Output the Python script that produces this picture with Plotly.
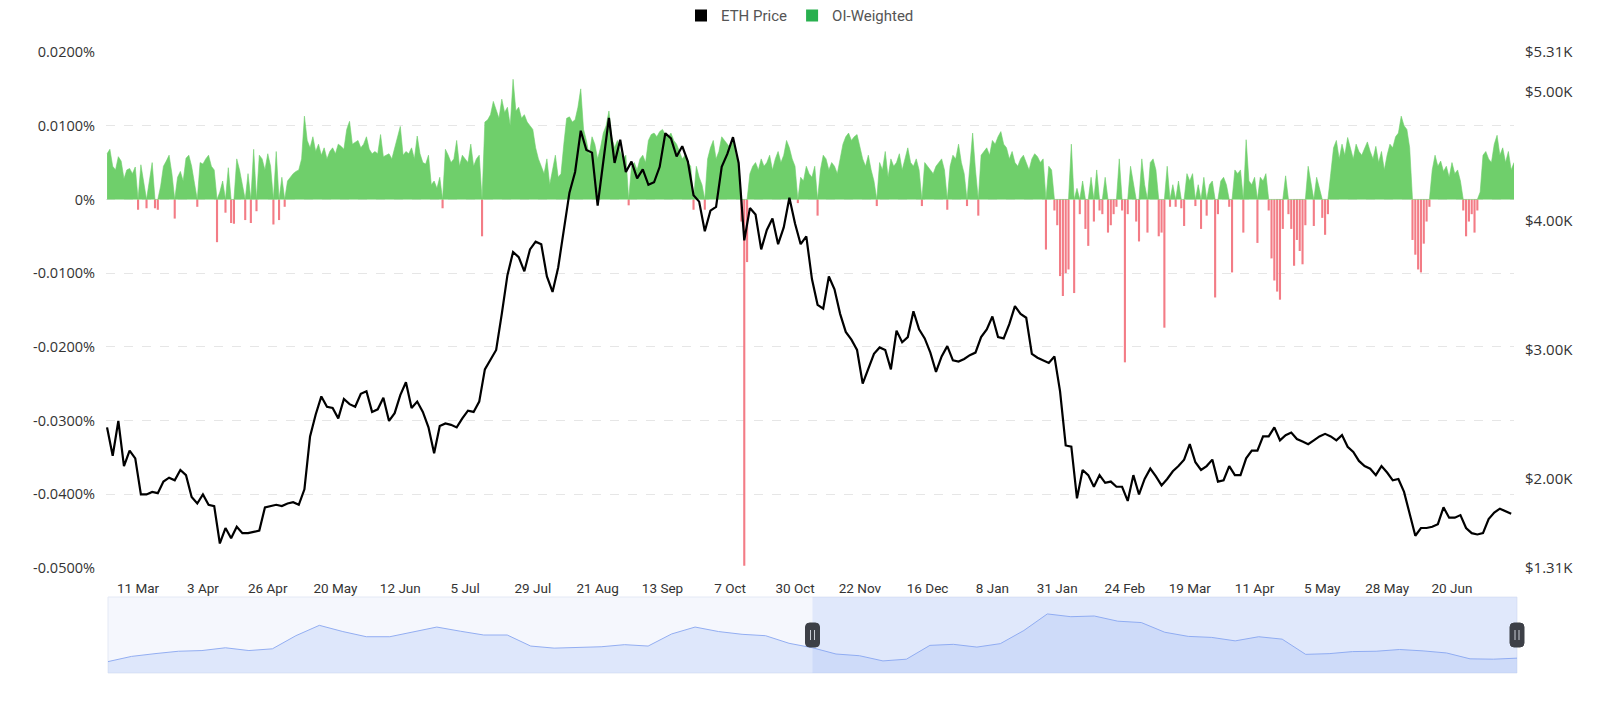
import pandas as pd
import plotly.graph_objects as go

# ---------------- data ----------------
START = "2025-02-28"

# ETH price (thousands of USD), one reading every 2 days
eth_price_k = [
    2.40, 2.18, 2.45, 2.10, 2.22, 2.16, 1.88, 1.88, 1.90, 1.89,
    1.98, 2.01, 1.99, 2.07, 2.03, 1.86, 1.81, 1.88, 1.80, 1.79,
    1.50, 1.62, 1.54, 1.63, 1.58, 1.58, 1.59, 1.60, 1.78, 1.79,
    1.80, 1.79, 1.81, 1.82, 1.80, 1.92, 2.33, 2.50, 2.64, 2.56,
    2.55, 2.47, 2.62, 2.58, 2.56, 2.66, 2.68, 2.52, 2.54, 2.63,
    2.45, 2.51, 2.65, 2.75, 2.55, 2.60, 2.52, 2.40, 2.20, 2.41,
    2.43, 2.42, 2.40, 2.47, 2.53, 2.52, 2.60, 2.85, 2.92, 3.00,
    3.28, 3.58, 3.76, 3.72, 3.61, 3.78, 3.84, 3.82, 3.57, 3.45,
    3.64, 3.92, 4.22, 4.38, 4.70, 4.55, 4.53, 4.12, 4.45, 4.80,
    4.45, 4.63, 4.38, 4.46, 4.33, 4.40, 4.28, 4.30, 4.42, 4.68,
    4.64, 4.50, 4.58, 4.46, 4.20, 4.15, 3.92, 4.08, 4.11, 4.42,
    4.52, 4.65, 4.45, 3.85, 4.10, 4.05, 3.78, 3.93, 4.02, 3.82,
    3.95, 4.18, 3.98, 3.82, 3.88, 3.55, 3.35, 3.32, 3.57, 3.47,
    3.28, 3.14, 3.08, 3.00, 2.74, 2.85, 2.97, 3.02, 3.00, 2.85,
    3.15, 3.06, 3.10, 3.30, 3.16, 3.09, 2.98, 2.83, 2.95, 3.03,
    2.92, 2.91, 2.93, 2.96, 2.98, 3.10, 3.16, 3.26, 3.10, 3.09,
    3.20, 3.34, 3.28, 3.25, 2.97, 2.94, 2.92, 2.90, 2.95, 2.68,
    2.26, 2.25, 1.85, 2.07, 2.03, 1.94, 2.03, 1.97, 1.98, 1.94,
    1.94, 1.83, 2.03, 1.88, 2.00, 2.08, 2.02, 1.95, 2.00, 2.06,
    2.10, 2.15, 2.27, 2.13, 2.07, 2.10, 2.15, 1.98, 1.99, 2.10,
    2.03, 2.03, 2.16, 2.22, 2.22, 2.33, 2.33, 2.40, 2.30, 2.34,
    2.36, 2.31, 2.29, 2.27, 2.30, 2.33, 2.35, 2.33, 2.30, 2.34,
    2.25, 2.21, 2.14, 2.10, 2.08, 2.03, 2.10, 2.05, 1.99, 2.00,
    1.90, 1.74, 1.56, 1.62, 1.62, 1.63, 1.65, 1.78, 1.70, 1.70,
    1.72, 1.62, 1.58, 1.57, 1.58, 1.69, 1.74, 1.77, 1.75, 1.73,
]

# OI-weighted funding rate (%), one reading per day
oi_weighted_pct = [
    0.0062, 0.0068, 0.0045, 0.0040, 0.0058, 0.0052, 0.0028, 0.0040, 0.0042, 0.0035,
    0.0044, -0.0014, 0.0047, 0.0022, -0.0012, 0.0025, 0.0050, -0.0012, -0.0014, 0.0018,
    0.0045, 0.0052, 0.0060, 0.0035, -0.0026, 0.0030, 0.0038, 0.0025, 0.0056, 0.0060,
    0.0045, 0.0022, -0.0010, 0.0050, 0.0048, 0.0055, 0.0060, 0.0045, 0.0040, -0.0058,
    0.0010, 0.0025, -0.0018, 0.0043, -0.0032, -0.0033, 0.0055, 0.0040, 0.0020, -0.0028,
    0.0035, -0.0032, 0.0068, -0.0016, 0.0060, 0.0055, 0.0040, 0.0062, 0.0045, -0.0034,
    0.0065, -0.0028, 0.0030, -0.0010, 0.0025, 0.0030, 0.0035, 0.0038, 0.0040, 0.0055,
    0.0113, 0.0080, 0.0070, 0.0085, 0.0065, 0.0075, 0.0060, 0.0070, 0.0055, 0.0065,
    0.0070, 0.0062, 0.0075, 0.0072, 0.0068, 0.0095, 0.0106, 0.0075, 0.0078, 0.0080,
    0.0070, 0.0075, 0.0085, 0.0068, 0.0062, 0.0065, 0.0062, 0.0088, 0.0058, 0.0060,
    0.0062, 0.0055, 0.0070, 0.0085, 0.0099, 0.0060, 0.0065, 0.0062, 0.0070, 0.0055,
    0.0086, 0.0062, 0.0050, 0.0048, 0.0060, 0.0020, 0.0025, 0.0015, 0.0030, -0.0012,
    0.0068, 0.0060, 0.0050, 0.0055, 0.0080, 0.0045, 0.0060, 0.0055, 0.0050, 0.0075,
    0.0045, 0.0055, 0.0060, -0.0050, 0.0105, 0.0108, 0.0115, 0.0133, 0.0120, 0.0110,
    0.0136, 0.0118, 0.0125, 0.0100, 0.0163, 0.0120, 0.0125, 0.0110, 0.0115, 0.0105,
    0.0100, 0.0095, 0.0070, 0.0055, 0.0045, 0.0035, 0.0055, 0.0020, 0.0040, 0.0060,
    0.0030, 0.0035, 0.0075, 0.0110, 0.0112, 0.0105, 0.0108, 0.0125, 0.0150, 0.0095,
    0.0080, 0.0060, 0.0085, 0.0075, 0.0055, 0.0070, 0.0090, 0.0100, 0.0120, 0.0085,
    0.0070, 0.0080, 0.0065, 0.0055, 0.0060, -0.0008, 0.0045, 0.0050, 0.0040, 0.0055,
    0.0060, 0.0050, 0.0080, 0.0088, 0.0090, 0.0085, 0.0092, 0.0095, 0.0088, 0.0085,
    0.0090, 0.0080, 0.0075, 0.0065, 0.0055, 0.0060, 0.0050, 0.0045, -0.0014, 0.0045,
    0.0030, 0.0020, -0.0014, 0.0055, 0.0070, 0.0080, 0.0055, 0.0065, 0.0085, 0.0080,
    0.0075, 0.0070, 0.0080, 0.0060, 0.0050, -0.0030, -0.0497, -0.0085, 0.0035, 0.0045,
    0.0050, 0.0040, 0.0055, 0.0045, 0.0050, 0.0060, 0.0040, 0.0055, 0.0065, 0.0050,
    0.0060, 0.0080, 0.0070, 0.0055, 0.0045, -0.0005, 0.0030, 0.0025, 0.0045, 0.0035,
    0.0030, 0.0045, -0.0022, 0.0040, 0.0060, 0.0055, 0.0040, 0.0050, 0.0045, 0.0035,
    0.0055, 0.0075, 0.0085, 0.0090, 0.0080, 0.0085, 0.0088, 0.0070, 0.0055, 0.0045,
    0.0060, 0.0040, 0.0025, -0.0009, 0.0050, 0.0040, 0.0065, 0.0030, 0.0055, 0.0045,
    0.0050, 0.0062, 0.0040, 0.0055, 0.0070, 0.0050, 0.0045, 0.0055, 0.0040, -0.0009,
    0.0050, 0.0045, 0.0040, 0.0035, 0.0045, 0.0050, 0.0055, 0.0040, -0.0014, 0.0045,
    0.0060, 0.0055, 0.0075, 0.0050, 0.0035, -0.0009, 0.0045, 0.0090, 0.0040, -0.0022,
    0.0060, 0.0065, 0.0070, 0.0060, 0.0080, 0.0075, 0.0085, 0.0092, 0.0075, 0.0070,
    0.0055, 0.0065, 0.0050, 0.0045, 0.0055, 0.0060, 0.0050, 0.0040, 0.0055, 0.0062,
    0.0058, 0.0050, 0.0055, -0.0068, 0.0045, 0.0040, -0.0015, -0.0035, -0.0104, -0.0131,
    -0.0100, -0.0095, 0.0075, -0.0127, 0.0015, -0.0020, 0.0025, -0.0040, -0.0063, 0.0030,
    -0.0030, 0.0040, -0.0015, -0.0020, 0.0030, -0.0045, -0.0035, -0.0020, -0.0010, 0.0055,
    -0.0015, -0.0221, -0.0020, 0.0045, 0.0025, -0.0030, -0.0057, 0.0055, 0.0020, -0.0045,
    0.0050, 0.0055, 0.0040, -0.0050, -0.0045, -0.0174, 0.0045, -0.0010, 0.0020, -0.0010,
    0.0025, -0.0012, -0.0036, 0.0035, 0.0025, 0.0035, -0.0009, 0.0020, -0.0040, 0.0030,
    -0.0022, 0.0020, 0.0025, -0.0133, -0.0020, 0.0025, 0.0030, 0.0020, -0.0010, -0.0099,
    0.0040, 0.0035, 0.0040, -0.0045, 0.0081, 0.0025, 0.0020, 0.0030, -0.0059, 0.0030,
    0.0025, 0.0035, -0.0015, -0.0080, -0.0110, -0.0125, -0.0136, -0.0040, 0.0032, -0.0020,
    -0.0040, -0.0090, -0.0055, -0.0070, -0.0088, -0.0035, 0.0045, 0.0020, -0.0036, 0.0030,
    0.0015, -0.0025, -0.0048, -0.0020, 0.0035, 0.0070, 0.0080, 0.0055, 0.0075, 0.0060,
    0.0084, 0.0070, 0.0055, 0.0075, 0.0065, 0.0060, 0.0070, 0.0078, 0.0065, 0.0055,
    0.0072, 0.0050, 0.0065, 0.0040, 0.0060, 0.0075, 0.0070, 0.0085, 0.0090, 0.0113,
    0.0100, 0.0095, 0.0070, -0.0055, -0.0075, -0.0095, -0.0099, -0.0060, -0.0030, -0.0010,
    0.0040, 0.0060, 0.0045, 0.0052, 0.0038, 0.0045, 0.0030, 0.0050, 0.0035, 0.0040,
    0.0025, -0.0015, -0.0050, -0.0030, -0.0020, -0.0045, -0.0015, 0.0010, 0.0060, 0.0065,
    0.0055, 0.0050, 0.0075, 0.0087, 0.0060, 0.0070, 0.0050, 0.0065, 0.0040, 0.0050,
]

# x-axis tick labels
tick_dates = ["2025-03-11", "2025-04-03", "2025-04-26", "2025-05-20", "2025-06-12",
              "2025-07-05", "2025-07-29", "2025-08-21", "2025-09-13", "2025-10-07",
              "2025-10-30", "2025-11-22", "2025-12-16", "2026-01-08", "2026-01-31",
              "2026-02-24", "2026-03-19", "2026-04-11", "2026-05-05", "2026-05-28",
              "2026-06-20"]
tick_labels = ["11 Mar", "3 Apr", "26 Apr", "20 May", "12 Jun", "5 Jul", "29 Jul",
               "21 Aug", "13 Sep", "7 Oct", "30 Oct", "22 Nov", "16 Dec", "8 Jan",
               "31 Jan", "24 Feb", "19 Mar", "11 Apr", "5 May", "28 May", "20 Jun"]

left_tick_vals = [0.02, 0.01, 0, -0.01, -0.02, -0.03, -0.04, -0.05]
left_tick_text = ["0.0200%", "0.0100%", "0%", "-0.0100%", "-0.0200%",
                  "-0.0300%", "-0.0400%", "-0.0500%"]
right_tick_vals = [5.31, 5.00, 4.00, 3.00, 2.00, 1.31]
right_tick_text = ["$5.31K", "$5.00K", "$4.00K", "$3.00K", "$2.00K", "$1.31K"]

# data-zoom slider preview series (relative height units) and selected window
slider_preview = [33, 48, 56, 63, 65, 73, 65, 70, 108, 138, 120, 105, 105, 118, 133,
                  121, 110, 110, 78, 72, 73, 76, 82, 78, 113, 133, 120, 112, 108, 86,
                  73, 55, 50, 35, 40, 80, 83, 75, 85, 123, 171, 163, 165, 150, 146,
                  118, 106, 103, 93, 105, 98, 54, 56, 62, 63, 68, 64, 58, 41, 40, 43]
slider_window = (30, 60)

# ---------------- figure ----------------
price_dates = pd.date_range(START, periods=len(eth_price_k), freq="2D")
fund_dates = pd.date_range(START, periods=len(oi_weighted_pct), freq="D")
fund_pos = [v if v > 0 else 0 for v in oi_weighted_pct]
fund_neg = [v if v < 0 else None for v in oi_weighted_pct]

W, H = 1600, 713
FONT = "Roboto, Noto Sans, sans-serif"
TICKFONT = "Open Sans, Roboto, sans-serif"
GREEN = "#6fcf6b"
RED = "#f37c86"
DAY_MS = 86400000

fig = go.Figure()
fig.add_trace(go.Scatter(x=fund_dates, y=fund_pos, mode="lines", fill="tozeroy",
                         line=dict(color=GREEN, width=0.6), fillcolor=GREEN,
                         showlegend=False, hoverinfo="skip"))
fig.add_trace(go.Bar(x=fund_dates, y=fund_neg, width=0.75 * DAY_MS,
                     marker=dict(color=RED, line=dict(width=0)),
                     showlegend=False, hoverinfo="skip"))
fig.add_trace(go.Scatter(x=price_dates, y=eth_price_k, yaxis="y2", mode="lines",
                         line=dict(color="#000000", width=2.2), showlegend=False))

# legend entries (square swatches)
fig.add_trace(go.Scatter(x=[None], y=[None], mode="markers", name="ETH Price",
                         marker=dict(symbol="square", size=12, color="#000000")))
fig.add_trace(go.Scatter(x=[None], y=[None], mode="markers", name="OI-Weighted",
                         marker=dict(symbol="square", size=12, color="#28b04f")))

# slider preview
fig.add_trace(go.Scatter(x=list(range(len(slider_preview))), y=slider_preview,
                         xaxis="x2", yaxis="y3", mode="lines", fill="tozeroy",
                         line=dict(color="#93aef2", width=1),
                         fillcolor="rgba(143,176,247,0.22)", showlegend=False,
                         hoverinfo="skip"))

px = lambda v, tot: v / tot
n_prev = len(slider_preview) - 1
unit = (1517 - 108) / n_prev
fig.update_layout(
    width=W, height=H, autosize=False,
    margin=dict(l=0, r=0, t=0, b=0, autoexpand=False),
    paper_bgcolor="white", plot_bgcolor="white",
    font=dict(family=FONT, size=13, color="#333333"),
    showlegend=True, barmode="overlay",
    legend=dict(orientation="h", x=0.5, xanchor="center", y=1.001, yanchor="top",
                font=dict(size=15, color="#555555"), itemwidth=30,
                bgcolor="rgba(0,0,0,0)"),
    xaxis=dict(domain=[px(106, W), px(1514, W)], type="date",
               range=["2025-02-27 15:00", "2026-07-12 00:00"],
               tickvals=tick_dates, ticktext=tick_labels, showgrid=False,
               zeroline=False, showline=False, ticks="", ticklabelstandoff=10,
               tickfont=dict(family=FONT, size=13.5, color="#333333"), anchor="y"),
    yaxis=dict(domain=[1 - px(568, H), 1 - px(52, H)], range=[-0.05, 0.02],
               tickvals=left_tick_vals, ticktext=left_tick_text,
               showgrid=True, gridcolor="#e6e6e6", griddash="dash", gridwidth=1,
               zeroline=False, showline=False, ticks="", ticklabelstandoff=10,
               tickfont=dict(family=TICKFONT, size=14.5, color="#333333")),
    yaxis2=dict(overlaying="y", side="right", range=[1.31, 5.31],
                tickvals=right_tick_vals, ticktext=right_tick_text,
                showgrid=False, zeroline=False, showline=False, ticks="",
                ticklabelstandoff=10,
                tickfont=dict(family=TICKFONT, size=15, color="#333333")),
    xaxis2=dict(domain=[px(108 - unit * 0.6, W), px(1517 + unit * 0.6, W)],
                range=[-0.6, n_prev + 0.6],
                anchor="y3", showgrid=False, zeroline=False, showticklabels=False,
                showline=False, ticks=""),
    yaxis3=dict(domain=[1 - px(673, H), 1 - px(597, H)], range=[0, 220],
                anchor="x2", showgrid=False, zeroline=False, showticklabels=False,
                showline=False, ticks=""),
)

shapes = [
    # slider background
    dict(type="rect", xref="x2", yref="y3 domain", x0=0, x1=n_prev, y0=0, y1=1,
         fillcolor="rgba(225,232,250,0.35)", line=dict(color="#e4e9f5", width=1),
         layer="below"),
    # selected window
    dict(type="rect", xref="x2", yref="y3 domain", x0=slider_window[0],
         x1=slider_window[1], y0=0, y1=1, fillcolor="rgba(135,165,245,0.18)",
         line=dict(width=0), layer="above"),
]
hw, hh, r = 7, 12, 4
handle_path = (f"M {-hw},{-hh + r} Q {-hw},{-hh} {-hw + r},{-hh} L {hw - r},{-hh} "
               f"Q {hw},{-hh} {hw},{-hh + r} L {hw},{hh - r} Q {hw},{hh} {hw - r},{hh} "
               f"L {-hw + r},{hh} Q {-hw},{hh} {-hw},{hh - r} Z")
for hx in slider_window:
    shapes.append(dict(type="path", xref="x2", yref="y3 domain", xsizemode="pixel",
                       ysizemode="pixel", xanchor=hx, yanchor=0.5, path=handle_path,
                       fillcolor="#3d4047", line=dict(color="#3d4047", width=1)))
    for dx in (-2, 2):
        shapes.append(dict(type="line", xref="x2", yref="y3 domain", xsizemode="pixel",
                           ysizemode="pixel", xanchor=hx, yanchor=0.5,
                           x0=dx, x1=dx, y0=-5, y1=5,
                           line=dict(color="#c9ccd3", width=1)))
fig.update_layout(shapes=shapes)

fig.write_html("out.html")
